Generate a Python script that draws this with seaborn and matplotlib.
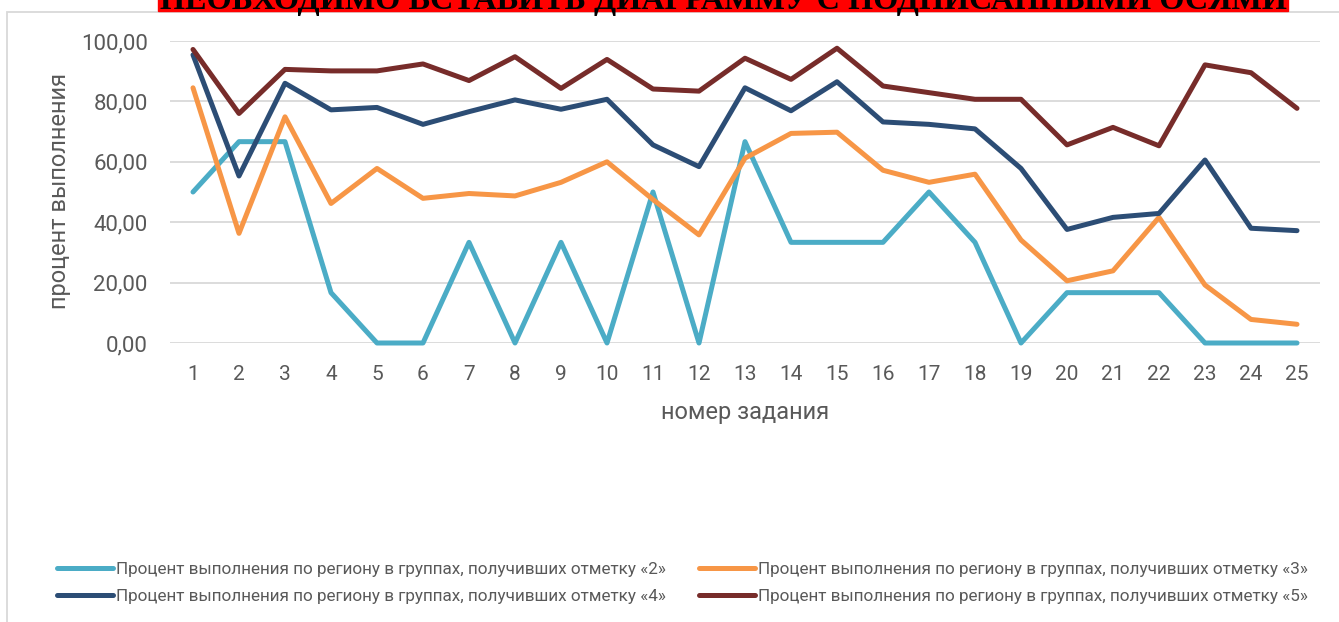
import numpy as np
import pandas as pd
import matplotlib
matplotlib.use("Agg")
import matplotlib.pyplot as plt
import matplotlib.patches as patches
from matplotlib.ticker import FuncFormatter
import seaborn as sns

# data
tasks = list(range(1, 26))
grade2 = [50.00, 66.67, 66.67, 16.67, 0, 0, 33.33, 0, 33.33, 0, 50.00, 0, 66.67,
          33.33, 33.33, 33.33, 50.00, 33.33, 0, 16.67, 16.67, 16.67, 0, 0, 0]
grade3 = [84.5, 36.3, 74.9, 46.2, 57.8, 47.9, 49.5, 48.7, 53.2, 60.0, 47.5, 35.8, 61.2,
          69.4, 69.8, 57.2, 53.2, 55.9, 34.1, 20.6, 23.9, 41.6, 19.2, 7.8, 6.2]
grade4 = [95.4, 55.3, 86.0, 77.2, 78.0, 72.4, 76.6, 80.5, 77.4, 80.7, 65.6, 58.4, 84.5,
          76.9, 86.5, 73.2, 72.4, 70.9, 57.8, 37.6, 41.6, 42.9, 60.6, 38.0, 37.2]
grade5 = [97.2, 76.0, 90.6, 90.1, 90.1, 92.4, 86.9, 94.8, 84.3, 93.9, 84.1, 83.4, 94.3,
          87.3, 97.6, 85.1, 82.9, 80.7, 80.7, 65.6, 71.4, 65.3, 92.1, 89.5, 77.7]

series_names = [
    "Процент выполнения по региону в группах, получивших отметку «2»",
    "Процент выполнения по региону в группах, получивших отметку «3»",
    "Процент выполнения по региону в группах, получивших отметку «4»",
    "Процент выполнения по региону в группах, получивших отметку «5»",
]
colors = ["#4BACC6", "#F79646", "#2C4D75", "#772C2A"]
banner_text = "НЕОБХОДИМО ВСТАВИТЬ ДИАГРАММУ С ПОДПИСАННЫМИ ОСЯМИ"

df = pd.concat([
    pd.DataFrame({"task": tasks, "value": vals, "group": name})
    for vals, name in zip([grade2, grade3, grade4, grade5], series_names)
])

sns.set_theme(style="white")
plt.rcParams["font.family"] = ["Roboto", "DejaVu Sans"]

W, H = 1339, 622
fig = plt.figure(figsize=(W / 100, H / 100), dpi=100)
ax = fig.add_axes([170 / W, 1 - 343 / H, 1150 / W, 302 / H])

# chart frame and red banner on top
fig.patches.append(patches.Rectangle((7 / W, -0.05), 1.2, 1 - 11.5 / H + 0.05,
                                     transform=fig.transFigure, fill=False,
                                     edgecolor="#d9d9d9", lw=1.3, zorder=0))
fig.patches.append(patches.Rectangle((158 / W, 1 - 10.7 / H), (1288 - 158) / W, 0.05,
                                     transform=fig.transFigure, color="#ff0000", zorder=0))

sns.lineplot(data=df, x="task", y="value", hue="group", hue_order=series_names,
             palette=colors, linewidth=3.6, ax=ax, legend=False, clip_on=False,
             solid_capstyle="round", solid_joinstyle="round")

ax.set_xlim(0.5, 25.5)
ax.set_ylim(0, 100)
ax.set_xticks(tasks)
ax.set_yticks(np.arange(0, 101, 20))
ax.yaxis.set_major_formatter(FuncFormatter(lambda v, p: f"{v:.2f}".replace(".", ",")))
ax.yaxis.grid(True, color="#d9d9d9", lw=1.3)
ax.xaxis.grid(False)
ax.set_axisbelow(True)
for s in ax.spines.values():
    s.set_visible(False)
ax.tick_params(axis="both", length=0, labelsize=15, labelcolor="#595959")
ax.tick_params(axis="y", labelsize=16, pad=16)
ax.tick_params(axis="x", pad=16)

ax.set_xlabel("номер задания", fontsize=17, color="#595959")
ax.set_ylabel("процент выполнения", fontsize=17, color="#595959")
ax.xaxis.label.set_va("center")
ax.yaxis.label.set_va("center")
ax.xaxis.set_label_coords(0.5, (343 - 413) / 302)
ax.yaxis.set_label_coords((60 - 170) / 1150, (343 - 191) / 302)

# legend: two columns, each its own legend so the column positions match
lines = ax.get_lines()
fs = 12.3
for idx, x0 in [([0, 2], 57), ([1, 3], 699)]:
    leg = fig.legend([lines[i] for i in idx], [series_names[i] for i in idx],
                     ncol=1, frameon=False, loc="upper left",
                     bbox_to_anchor=(x0 / W, 1 - 562 / H), fontsize=fs,
                     handlelength=56 / (fs * 1.389), handletextpad=0.15,
                     labelspacing=0.72, borderpad=0, borderaxespad=0,
                     labelcolor="#595959")
    for h in leg.legend_handles:
        h.set_linewidth(3.6)
        h.set_solid_capstyle("round")

# banner text, only its lower part shows at the top edge
bt = fig.text(160 / W, 1 - 9.3 / H, banner_text, ha="left", va="baseline",
              fontsize=30, fontweight="bold", color="black",
              family=["Liberation Serif", "DejaVu Serif"])
fig.canvas.draw()
width_px = bt.get_window_extent().width
bt.set_fontsize(30 * (1125 / width_px))

fig.savefig("out.png", dpi=100)
